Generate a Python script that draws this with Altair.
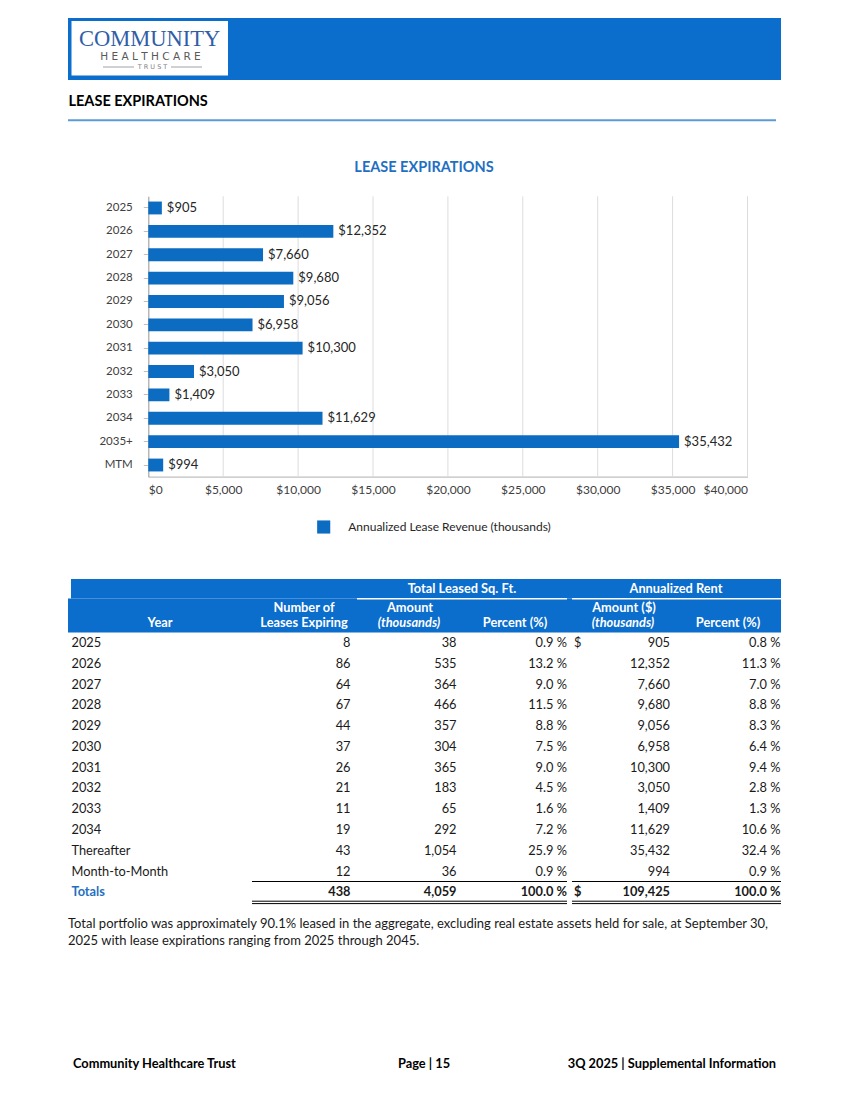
import altair as alt
import pandas as pd

# ---------------- data ----------------
categories = ["2025", "2026", "2027", "2028", "2029", "2030", "2031", "2032",
              "2033", "2034", "2035+", "MTM"]
revenue = [905, 12352, 7660, 9680, 9056, 6958, 10300, 3050, 1409, 11629, 35432, 994]
x_ticks = [0, 5000, 10000, 15000, 20000, 25000, 30000, 35000, 40000]
series_name = "Annualized Lease Revenue (thousands)"

table_rows = ["2025", "2026", "2027", "2028", "2029", "2030", "2031", "2032",
              "2033", "2034", "Thereafter", "Month-to-Month", "Totals"]
leases = [8, 86, 64, 67, 44, 37, 26, 21, 11, 19, 43, 12, 438]
sqft = [38, 535, 364, 466, 357, 304, 365, 183, 65, 292, 1054, 36, 4059]
sqft_pct = [0.9, 13.2, 9.0, 11.5, 8.8, 7.5, 9.0, 4.5, 1.6, 7.2, 25.9, 0.9, 100.0]
rent = [905, 12352, 7660, 9680, 9056, 6958, 10300, 3050, 1409, 11629, 35432, 994, 109425]
rent_pct = [0.8, 11.3, 7.0, 8.8, 8.3, 6.4, 9.4, 2.8, 1.3, 10.6, 32.4, 0.9, 100.0]
dollar_rows = ["2025", "Totals"]

footnote_lines = [
    "Total portfolio was approximately 90.1% leased in the aggregate, excluding real estate assets held for sale, at September 30,",
    "2025 with lease expirations ranging from 2025 through 2045.",
]

# ---------------- layout helpers ----------------
W, H = 833, 1084
M = 8  # page margin


def px(v):
    return v - M


def py(v):
    return v - M


FONT = "Lato"
BAND_BLUE = "#0b6dcc"
BAR_BLUE = "#0b6cc2"
TITLE_BLUE = "#1f6fc2"
TEXT = "#1a1a1a"

one = pd.DataFrame({"k": [0]})


def rect(x1, x2, y1, y2, color):
    return alt.Chart(one).mark_rect(color=color).encode(
        x=alt.value(px(x1)), x2=alt.value(px(x2)),
        y=alt.value(py(y1)), y2=alt.value(py(y2)))


def hline(x1, x2, y, color, w=1.0):
    return alt.Chart(one).mark_rule(color=color, strokeWidth=w).encode(
        x=alt.value(px(x1)), x2=alt.value(px(x2)), y=alt.value(py(y)))


def label(text, x, y, size, weight="normal", color=TEXT, align="left",
          font=FONT, style="normal"):
    return alt.Chart(one).mark_text(
        text=text, font=font, fontSize=size, fontWeight=weight, color=color,
        align=align, baseline="middle", fontStyle=style).encode(
        x=alt.value(px(x)), y=alt.value(py(y)))


layers = []

# ---------------- page header ----------------
layers.append(rect(68, 781, 18, 80, BAND_BLUE))
layers.append(rect(71.5, 228, 21, 75.5, "#ffffff"))
layers.append(label("COMMUNITY", 149.5, 38.5, 22.5, color="#2f5ea8",
                    align="center", font="Liberation Serif"))
layers.append(label("H E A L T H C A R E", 150.5, 57, 10.5, color="#595959",
                    align="center", font="DejaVu Sans"))
layers.append(label("T R U S T", 152.5, 67, 6.5, color="#7f7f7f",
                    align="center", font="DejaVu Sans"))
layers.append(hline(103, 134, 67, "#8c8c8c", 0.8))
layers.append(hline(171, 202, 67, "#8c8c8c", 0.8))

layers.append(label("LEASE EXPIRATIONS", 68.5, 101.5, 14.5, weight="bold", color="#000000"))
layers.append(hline(68, 776, 120.3, "#5b9bd5", 2))

# ---------------- bar chart ----------------
bar_df = pd.DataFrame({"cat": categories, "rev": revenue,
                       "series": [series_name] * len(categories)})
xs = alt.Scale(domain=[0, 40000], range=[px(148.3), px(747.5)], nice=False, zero=True)
ys = alt.Scale(domain=categories, range=[py(196.3), py(476.7)],
               paddingInner=0.45, paddingOuter=0.225)

layers.append(label("LEASE EXPIRATIONS", 424, 167.5, 14.5, weight="bold",
                    color=TITLE_BLUE, align="center"))

grid = alt.Chart(pd.DataFrame({"t": x_ticks[1:]})).mark_rule(
    color="#dcdcdc", strokeWidth=1).encode(
    x=alt.X("t:Q", scale=xs, axis=None),
    y=alt.value(py(196.3)), y2=alt.value(py(476.7)))
layers.append(grid)

bars = alt.Chart(bar_df).mark_bar().encode(
    x=alt.X("rev:Q", scale=xs, title=None,
            axis=alt.Axis(orient="bottom", offset=-(H - py(476.7)), values=x_ticks,
                          format="$,.0f", grid=False, ticks=False, labelPadding=8,
                          labelFont=FONT, labelFontSize=12, labelColor="#404040",
                          labelOverlap=False,
                          domainColor="#bfbfbf", domainWidth=1.2)),
    y=alt.Y("cat:N", scale=ys, sort=None, title=None,
            axis=alt.Axis(orient="left", offset=-px(148.3), grid=False, ticks=True,
                          tickSize=5, tickColor="#bfbfbf", labelPadding=11,
                          labelFont=FONT, labelFontSize=11.5, labelColor="#404040",
                          domainColor="#a6a6a6", domainWidth=1.2)),
    color=alt.Color("series:N", scale=alt.Scale(range=[BAR_BLUE]),
                    legend=alt.Legend(orient="none", legendX=px(316.7), legendY=py(520),
                                      title=None, symbolType="square", symbolSize=172,
                                      symbolStrokeWidth=0, labelFont=FONT,
                                      labelFontSize=12, labelColor="#262626",
                                      labelLimit=500,
                                      labelOffset=17.5, padding=0)),
)
layers.append(bars)

bar_labels = alt.Chart(bar_df).mark_text(
    align="left", baseline="middle", dx=5, font=FONT, fontSize=13, color="#262626").encode(
    x=alt.X("rev:Q", scale=xs, axis=None),
    y=alt.Y("cat:N", scale=ys, sort=None, axis=None),
    text=alt.Text("rev:Q", format="$,.0f"))
layers.append(bar_labels)

# ---------------- table ----------------
tbl = pd.DataFrame({
    "row": table_rows,
    "leases": [f"{v:,}" for v in leases],
    "sqft": [f"{v:,}" for v in sqft],
    "sqft_pct": [f"{v:.1f} %" for v in sqft_pct],
    "dollar": ["$" if r in dollar_rows else "" for r in table_rows],
    "rent": [f"{v:,}" for v in rent],
    "rent_pct": [f"{v:.1f} %" for v in rent_pct],
})
tys = alt.Scale(type="point", domain=table_rows, range=[py(643), py(892.3)], padding=0)

# header band
layers.append(rect(71, 781, 579, 598.5, BAND_BLUE))
layers.append(rect(68, 781, 598.5, 632.5, BAND_BLUE))
layers.append(hline(357, 567, 598.8, "#ffffff", 1.6))
layers.append(hline(572, 781, 598.8, "#ffffff", 1.6))

HW = "#ffffff"
HS = 12.8
layers.append(label("Total Leased Sq. Ft.", 462, 589, HS, "bold", HW, "center"))
layers.append(label("Annualized Rent", 676, 589, HS, "bold", HW, "center"))
layers.append(label("Year", 160, 622.5, HS, "bold", HW, "center"))
layers.append(label("Number of", 304, 607.5, HS, "bold", HW, "center"))
layers.append(label("Leases Expiring", 304, 622.5, HS, "bold", HW, "center"))
layers.append(label("Amount", 410, 607.5, HS, "bold", HW, "center"))
layers.append(label("(thousands)", 409, 622.5, HS, "bold", HW, "center", style="italic"))
layers.append(label("Percent (%)", 515, 622.5, HS, "bold", HW, "center"))
layers.append(label("Amount ($)", 624, 607.5, HS, "bold", HW, "center"))
layers.append(label("(thousands)", 623, 622.5, HS, "bold", HW, "center", style="italic"))
layers.append(label("Percent (%)", 728, 622.5, HS, "bold", HW, "center"))

TS = 12.8


def col(field, x, align, total, color=TEXT):
    flt = alt.datum.row == "Totals" if total else alt.datum.row != "Totals"
    return alt.Chart(tbl).transform_filter(flt).mark_text(
        align=align, baseline="middle", font=FONT, fontSize=TS,
        fontWeight="bold" if total else "normal", color=color).encode(
        x=alt.value(px(x)),
        y=alt.Y("row:N", scale=tys, axis=None),
        text=alt.Text(f"{field}:N"))


for total in (False, True):
    layers.append(col("row", 71.5, "left", total, TITLE_BLUE if total else TEXT))
    layers.append(col("leases", 350.5, "right", total))
    layers.append(col("sqft", 456.5, "right", total))
    layers.append(col("sqft_pct", 567, "right", total))
    layers.append(col("dollar", 574, "left", total))
    layers.append(col("rent", 670, "right", total))
    layers.append(col("rent_pct", 780.5, "right", total))

# total rules
layers.append(hline(252, 567, 881.5, "#000000", 1))
layers.append(hline(572, 781, 881.5, "#000000", 1))
for yy in (901.2, 903.6):
    layers.append(hline(252, 567, yy, "#000000", 1))
    layers.append(hline(572, 781, yy, "#000000", 1))

# footnote
layers.append(label(footnote_lines[0], 68, 924, 13))
layers.append(label(footnote_lines[1], 68, 941, 13))

# ---------------- page footer ----------------
layers.append(label("Community Healthcare Trust", 73, 1063.5, 12.8, "bold", "#000000"))
layers.append(label("Page | 15", 424, 1063.5, 12.8, "bold", "#000000", "center"))
layers.append(label("3Q 2025 | Supplemental Information", 776, 1063.5, 12.8, "bold",
                    "#000000", "right"))

chart = alt.layer(*layers).resolve_scale(
    x="independent", y="independent", color="independent"
).properties(
    width=W, height=H, padding=0, autosize=alt.AutoSizeParams(type="none")
).configure_view(stroke=None)

chart.save("out.html", embed_options={"renderer": "svg", "actions": False})
